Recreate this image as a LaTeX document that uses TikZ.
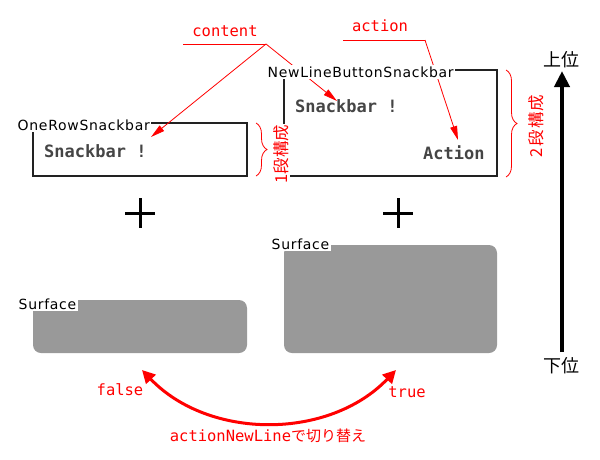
\documentclass[tikz,border=0pt]{standalone}
\usepackage{fontspec}
\setmainfont{DejaVu Sans}
\newfontfamily\jpfont{Noto Sans CJK JP}
\newfontfamily\monofont{DejaVu Sans Mono}
\newfontfamily\labfont[LetterSpace=5]{DejaVu Sans}
\usetikzlibrary{arrows.meta,decorations.pathreplacing}
\definecolor{surfgray}{HTML}{999999}
\definecolor{boxline}{HTML}{222222}
\definecolor{snkcol}{HTML}{454545}
\tikzset{
  sbox/.style={draw=boxline, line width=2pt, inner sep=0pt},
  surf/.style={fill=surfgray, rounded corners=8pt, inner sep=0pt},
  lab/.style={font=\labfont\fontsize{14}{16}\selectfont, fill=white, inner sep=1.5pt, anchor=west},
  snk/.style={font=\monofont\bfseries\fontsize{17}{19}\selectfont, text=snkcol, inner sep=0pt, anchor=west},
  redmono/.style={font=\monofont\fontsize{15.5}{18}\selectfont, text=red, inner sep=0pt},
  redjp/.style={font=\jpfont\fontsize{16.5}{18}\selectfont, text=red, fill=white, inner sep=1pt},
  pointer/.style={draw=red, line width=0.8pt, -{Triangle[length=14pt,width=7pt]}},
  uline/.style={draw=red, line width=0.8pt},
  bracestyle/.style={draw=red, line width=0.8pt, decorate, decoration={brace, amplitude=11pt}},
  switcharrow/.style={draw=red, line width=3pt, {Triangle[length=13pt,width=13pt]}-{Triangle[length=13pt,width=13pt]}},
  plus/.style={draw=black, line width=3pt},
  levelarrow/.style={draw=black, line width=4pt, -{Triangle[length=16pt,width=15pt]}},
  levellab/.style={font=\jpfont\fontsize{18}{20}\selectfont, inner sep=0pt}
}
\begin{document}
\begin{tikzpicture}[x=1pt,y=-1pt]
\useasboundingbox (0,0) rectangle (600,459);

% snackbar boxes
\node[sbox, minimum width=214pt, minimum height=53pt] (box1) at (140,149.5) {};
\node[sbox, minimum width=213pt, minimum height=106pt] (box2) at (390.5,123) {};

% surfaces
\node[surf, minimum width=214pt, minimum height=53pt] (surf1) at (140,326.5) {};
\node[surf, minimum width=213pt, minimum height=108pt] (surf2) at (390.5,299) {};

% content texts
\node[snk] (snk1) at (44,151.5) {Snackbar !};
\node[snk] (snk2) at (295,106) {Snackbar !};
\node[snk] (act2) at (423,152.5) {Action};

% annotation labels
\node[redmono] (content) at (225,31) {content};
\node[redmono] (action) at (380,26) {action};
\coordinate (cuL) at (183,44);
\coordinate (cuR) at (266,44);
\coordinate (auL) at (343,40);
\coordinate (auR) at (425,40);
\coordinate (tip1) at (151,137);
\coordinate (tip2) at (337,101);
\coordinate (tip3) at (458,140);
\draw[uline] (cuL) -- (cuR);
\draw[uline] (auL) -- (auR);
\draw[pointer] (cuR) -- (tip1);
\draw[pointer] (cuR) -- (tip2);
\draw[pointer] (auR) -- (tip3);

% component labels (white background hides lines)
\node[lab] (lab1) at (16,125.5) {OneRowSnackbar};
\node[lab] (lab2) at (266,72) {NewLineButtonSnackbar};
\node[lab] (slab1) at (17,304) {Surface};
\node[lab] (slab2) at (270,244) {Surface};

% braces
\coordinate (b1t) at (256,123);
\coordinate (b1b) at (256,176);
\coordinate (b2t) at (506,70);
\coordinate (b2b) at (506,177);
\draw[bracestyle] (b1t) -- (b1b);
\draw[bracestyle] (b2t) -- (b2b);
\node[redjp, rotate=90] (one) at (281,154) {1段構成};
\node[redjp, rotate=90] (two) at (536,126) {2\kern2pt 段\kern1pt 構\kern1pt 成};

% plus signs
\draw[plus] (125,213) -- (155,213) (140,198) -- (140,228);
\draw[plus] (383,213) -- (413,213) (398,198) -- (398,228);

% level arrow
\node[levellab] (up) at (561,60) {上位};
\node[levellab] (down) at (561,366) {下位};
\coordinate (lvb) at (562,352);
\coordinate (lvt) at (562,71);
\draw[levelarrow] (lvb) -- (lvt);

% switch arrow
\coordinate (fa) at (142,370);
\coordinate (ta) at (396,370);
\draw[switcharrow] (fa) .. controls (209,440) and (329,440) .. (ta);
\node[redmono] (false) at (120,390) {false};
\node[redmono] (true) at (407,392) {true};
\node[inner sep=0pt, text=red] (switch) at (268,436) {{\monofont\fontsize{15.5}{18}\selectfont actionNewLine}{\jpfont\fontsize{15}{18}\selectfont で切り替え}};
\end{tikzpicture}
\end{document}
